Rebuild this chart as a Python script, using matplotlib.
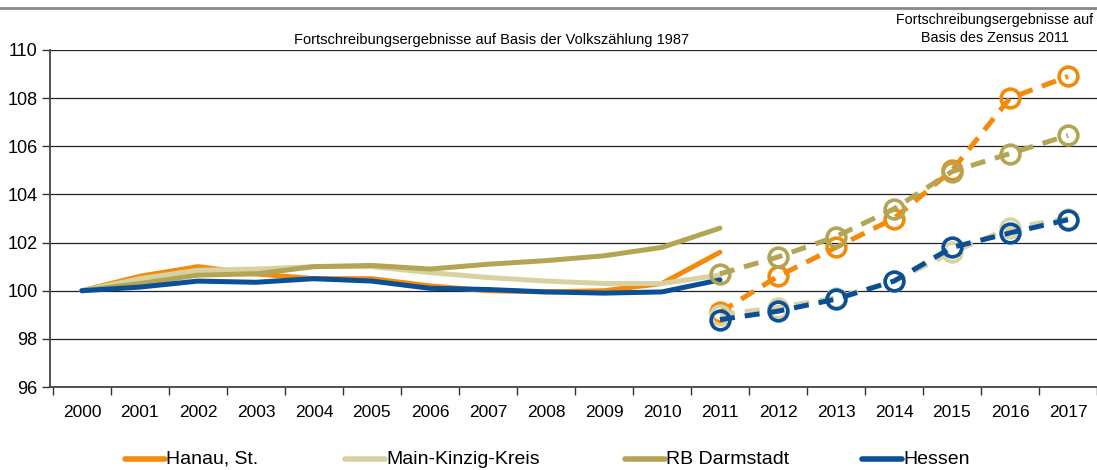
import numpy as np
import matplotlib
matplotlib.use('Agg')
import matplotlib.pyplot as plt
from matplotlib.lines import Line2D

# Jahre
years = [str(y) for y in range(2000, 2018)]
years_old = list(range(0, 12))   # 2000-2011, Basis Volkszaehlung 1987
years_new = list(range(11, 18))  # 2011-2017, Basis Zensus 2011

# Fortschreibung auf Basis der Volkszaehlung 1987 (2000 = 100)
hanau_old = [100.0, 100.6, 101.0, 100.7, 100.5, 100.5, 100.2, 100.0, 99.95, 100.0, 100.3, 101.6]
mkk_old = [100.0, 100.5, 100.85, 100.9, 101.0, 101.0, 100.75, 100.55, 100.4, 100.3, 100.3, 100.65]
darm_old = [100.0, 100.3, 100.65, 100.7, 101.0, 101.05, 100.9, 101.1, 101.25, 101.45, 101.8, 102.6]
hessen_old = [100.0, 100.15, 100.4, 100.35, 100.5, 100.4, 100.1, 100.05, 99.95, 99.9, 99.95, 100.45]

# Fortschreibung auf Basis des Zensus 2011
hanau_new = [99.1, 100.6, 101.8, 103.0, 105.0, 108.0, 108.9]
mkk_new = [99.0, 99.3, 99.7, 100.4, 101.6, 102.6, 103.0]
darm_new = [100.7, 101.4, 102.25, 103.4, 104.95, 105.7, 106.45]
hessen_new = [98.8, 99.15, 99.65, 100.4, 101.8, 102.4, 102.95]

labels = ['Hanau, St.', 'Main-Kinzig-Kreis', 'RB Darmstadt', 'Hessen']
colors = ['#F28A0C', '#D8D2A2', '#B3A553', '#0B4F97']

plt.rcParams['font.family'] = ['Liberation Sans', 'DejaVu Sans']

fig = plt.figure(figsize=(10.97, 4.70), dpi=100)
ax = fig.add_axes([50 / 1097, 83 / 470, 1047 / 1097, 337 / 470])

old = [hanau_old, mkk_old, darm_old, hessen_old]
new = [hanau_new, mkk_new, darm_new, hessen_new]

for vals, c in zip(old, colors):
    ax.plot(years_old, vals, color=c, lw=3.6, solid_capstyle='round',
            solid_joinstyle='round', zorder=3)
for vals, c in zip(new, colors):
    ax.plot(years_new, vals, color=c, lw=3.6, ls=(0, (3, 2)),
            marker='o', ms=13.5, mfc='none', mec=c, mew=2.6, zorder=4)

ax.set_xlim(-0.55, 17.5)
ax.set_ylim(96, 110)
ax.set_yticks(range(96, 111, 2))
ax.set_xticks(range(18))
ax.set_xticklabels(years, fontsize=12.5)
ax.tick_params(axis='x', length=0, pad=13)
ax.set_xticks(np.arange(-0.5, 17.6, 1), minor=True)
ax.tick_params(axis='x', which='minor', length=6, color='#333333', width=1)
ax.tick_params(axis='y', labelsize=13, length=6, color='#333333', width=1, pad=3)

ax.grid(axis='y', color='#222222', lw=0.9)
ax.set_axisbelow(True)
for s in ['top', 'right']:
    ax.spines[s].set_visible(False)
ax.spines['left'].set_color('#444444')
ax.spines['bottom'].set_color('#444444')
ax.spines['left'].set_linewidth(1.3)
ax.spines['bottom'].set_linewidth(1.3)

# Kopfzeilen
fig.add_artist(Line2D([0, 1], [1 - 8 / 470, 1 - 8 / 470], color='#888888', lw=2))
fig.text(492 / 1097, 1 - 40 / 470, 'Fortschreibungsergebnisse auf Basis der Volkszählung 1987',
         ha='center', va='center', fontsize=10.5)
fig.text(995 / 1097, 1 - 29 / 470, 'Fortschreibungsergebnisse auf\nBasis des Zensus 2011',
         ha='center', va='center', fontsize=10.3, linespacing=1.35)

# Legende
leg_x = [125, 345, 625, 862]
for x0, lab, c in zip(leg_x, labels, colors):
    fig.add_artist(Line2D([x0 / 1097, (x0 + 40) / 1097], [1 - 459 / 470, 1 - 459 / 470],
                          color=c, lw=4, solid_capstyle='round'))
    fig.text((x0 + 41) / 1097, 1 - 459 / 470, lab, ha='left', va='center', fontsize=14)

fig.savefig('out.png', dpi=100)
